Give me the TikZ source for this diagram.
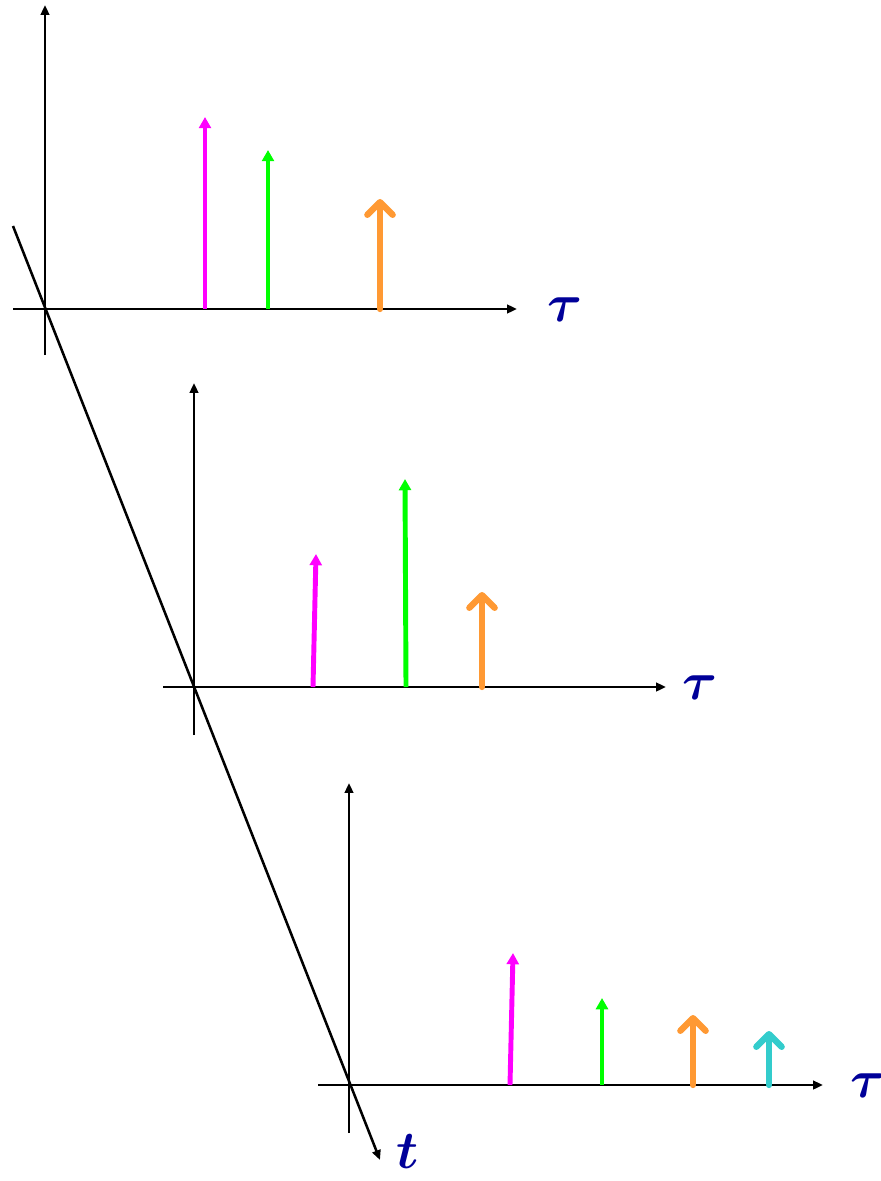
\documentclass[tikz,border=0pt]{standalone}
\usepackage{fix-cm}
\usepackage{amsmath, amssymb}
\usepackage{xcolor}
\usepackage{tikz}
\usetikzlibrary{arrows.meta, positioning, calc}
\definecolor{PulseMagenta}{RGB}{255, 0, 255}
\definecolor{PulseGreen}{RGB}{0, 255, 0}
\definecolor{PulseOrange}{RGB}{255, 153, 51}
\definecolor{PulseCyan}{RGB}{51, 204, 204}
\definecolor{LabelBlue}{RGB}{0, 0, 153}

\begin{document}
\begin{tikzpicture}[x=0.025cm, y=-0.025cm,
  axis/.style={black, line width=1.8pt, -{Triangle[length=7pt, width=6pt]}},
  thinstem/.style={line width=3.5pt, -{Triangle[length=8pt, width=8.5pt]}},
  fatstem/.style={line width=4.5pt, line cap=round,
    -{Straight Barb[length=9pt, width=18pt, round]}},
  lbl/.style={font=\fontsize{38}{38}\selectfont\boldmath, text=LabelBlue, inner sep=0pt}
]
\useasboundingbox (0,0) rectangle (880,1181);

% origins of the three snapshots
\coordinate (o1) at (45,309);
\coordinate (o2) at (194,687);
\coordinate (o3) at (349,1085);

% slanted time axis
\coordinate (tstart) at (13,226);
\coordinate (tend) at (380,1160);
\draw[axis] (tstart) -- (tend);
\node[lbl] (tlab) at (408,1152) {$t$};

% first snapshot
\coordinate (h1l) at (13,309);
\coordinate (h1r) at (517,309);
\coordinate (v1b) at (45,355);
\coordinate (v1t) at (45,5);
\draw[axis] (h1l) -- (h1r);
\draw[axis] (v1b) -- (v1t);
\node[lbl] (tau1) at (565,310) {$\tau$};
\draw[thinstem, PulseMagenta] (205,309) -- (205,117);
\draw[thinstem, PulseGreen] (268,309) -- (268,150);
\draw[fatstem, PulseOrange] (380,309) -- (380,199);

% second snapshot
\coordinate (h2l) at (163,687);
\coordinate (h2r) at (666,687);
\coordinate (v2b) at (194,735);
\coordinate (v2t) at (194,383);
\draw[axis] (h2l) -- (h2r);
\draw[axis] (v2b) -- (v2t);
\node[lbl] (tau2) at (700,688) {$\tau$};
\draw[thinstem, PulseMagenta] (313,687) -- (316,554);
\draw[thinstem, PulseGreen] (406,687) -- (405,479);
\draw[fatstem, PulseOrange] (482,687) -- (482,592);

% third snapshot
\coordinate (h3l) at (318,1085);
\coordinate (h3r) at (823,1085);
\coordinate (v3b) at (349,1133);
\coordinate (v3t) at (349,783);
\draw[axis] (h3l) -- (h3r);
\draw[axis] (v3b) -- (v3t);
\node[lbl] (tau3) at (868,1086) {$\tau$};
\draw[thinstem, PulseMagenta] (510,1085) -- (513,953);
\draw[thinstem, PulseGreen] (602,1085) -- (602,998);
\draw[fatstem, PulseOrange] (693,1085) -- (693,1015);
\draw[fatstem, PulseCyan] (769,1085) -- (769,1031);
\end{tikzpicture}
\end{document}
